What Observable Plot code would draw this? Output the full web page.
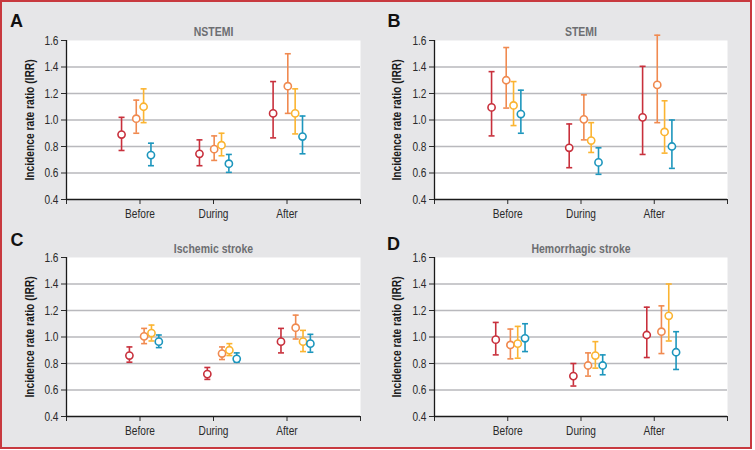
<!DOCTYPE html>
<html>
<head>
<meta charset="utf-8">
<script src="https://cdn.jsdelivr.net/npm/d3@7"></script>
<script src="https://cdn.jsdelivr.net/npm/@observablehq/plot@0.6"></script>
<style>
  html, body { margin: 0; padding: 0; background: #ffffff; }
  #wrap { position: relative; width: 755px; height: 450px; overflow: hidden; }
  #frame { position: absolute; left: 0; top: 0; width: 752px; height: 449px; box-sizing: border-box;
           border: 2px solid #c8393f; background: #e6e6e8; }
  .panel { position: absolute; }
  .panel svg { overflow: visible; }
</style>
</head>
<body>
<div id="wrap"><div id="frame"></div></div>
<script>
// ---- data ----
const phases = ["Before", "During", "After"];
const seriesNames = ["Series 1", "Series 2", "Series 3", "Series 4"];
const seriesColors = ["#c8303c", "#f08a50", "#fbb431", "#1d96bd"];
const yTicks = [0.4, 0.6, 0.8, 1.0, 1.2, 1.4, 1.6];
const yLabel = "Incidence rate ratio (IRR)";

const panelLetters = ["A", "B", "C", "D"];
const panelTitles = ["NSTEMI", "STEMI", "Ischemic stroke", "Hemorrhagic stroke"];

// values ordered: Before(s1..s4), During(s1..s4), After(s1..s4)
const nstemiEst = [0.89, 1.01, 1.10, 0.735, 0.745, 0.78, 0.81, 0.67, 1.05, 1.255, 1.05, 0.875];
const nstemiLo  = [0.77, 0.90, 0.98, 0.655, 0.655, 0.695, 0.73, 0.605, 0.865, 1.05, 0.895, 0.745];
const nstemiHi  = [1.02, 1.15, 1.235, 0.825, 0.85, 0.88, 0.90, 0.74, 1.29, 1.50, 1.235, 1.03];

const stemiEst = [1.095, 1.30, 1.11, 1.045, 0.79, 1.005, 0.845, 0.68, 1.02, 1.265, 0.91, 0.80];
const stemiLo  = [0.88, 1.09, 0.958, 0.90, 0.64, 0.85, 0.755, 0.59, 0.74, 0.98, 0.75, 0.635];
const stemiHi  = [1.365, 1.547, 1.29, 1.225, 0.97, 1.19, 0.98, 0.79, 1.405, 1.64, 1.145, 1.00];

const ischEst = [0.86, 1.005, 1.03, 0.965, 0.72, 0.875, 0.90, 0.835, 0.965, 1.07, 0.965, 0.95];
const ischLo  = [0.81, 0.95, 0.97, 0.92, 0.68, 0.83, 0.86, 0.81, 0.88, 0.985, 0.89, 0.885];
const ischHi  = [0.925, 1.065, 1.09, 1.015, 0.77, 0.925, 0.95, 0.88, 1.065, 1.165, 1.05, 1.02];

const hemEst = [0.98, 0.94, 0.95, 0.99, 0.705, 0.785, 0.86, 0.785, 1.015, 1.04, 1.16, 0.885];
const hemLo  = [0.865, 0.835, 0.84, 0.89, 0.63, 0.705, 0.765, 0.715, 0.845, 0.875, 0.97, 0.755];
const hemHi  = [1.11, 1.06, 1.08, 1.10, 0.80, 0.88, 0.965, 0.865, 1.225, 1.235, 1.40, 1.04];

const panelData = [
  [nstemiEst, nstemiLo, nstemiHi],
  [stemiEst, stemiLo, stemiHi],
  [ischEst, ischLo, ischHi],
  [hemEst, hemLo, hemHi]
];

// ---- layout / style ----
// horizontal placement of the four series inside each phase group (x units)
const dodge = [0, 0.2, 0.3, 0.4];
const groupStart = -0.154;
const panelShift = [-0.056, -0.026, 0.051, 0.031];
const phaseShift = [-0.041, 0.019, 0.021];

const FONT = "'Liberation Sans', Arial, Helvetica, sans-serif";
const layouts = [
  {left: 0,   top: 0,   w: 377, h: 225, mt: 40, mb: 26, ml: 66, mr: 17, letterDx: -50,   letterDy: -19, labelDx: -37},
  {left: 377, top: 0,   w: 378, h: 225, mt: 40, mb: 26, ml: 57, mr: 28, letterDx: -40.5, letterDy: -19, labelDx: -38},
  {left: 0,   top: 225, w: 377, h: 225, mt: 32, mb: 34, ml: 66, mr: 17, letterDx: -49.5, letterDy: -17, labelDx: -37},
  {left: 377, top: 225, w: 378, h: 225, mt: 32, mb: 34, ml: 57, mr: 28, letterDx: -41,   letterDy: -13, labelDx: -38}
];

const capSymbol = {
  draw(context, size) {
    const w = Math.sqrt(size / Math.PI);
    context.moveTo(-w, 0);
    context.lineTo(w, 0);
  }
};

// horizontally condense a text element about its own anchor (mimics a condensed face)
function condense(el, f) {
  const x = parseFloat(el.getAttribute("x")) || 0;
  const t = el.getAttribute("transform") || "";
  el.setAttribute("transform", `${t} translate(${x},0) scale(${f},1) translate(${-x},0)`.trim());
}

const wrap = document.getElementById("wrap");

panelData.forEach(([est, lo, hi], p) => {
  const L = layouts[p];
  const rows = est.map((v, i) => ({
    phase: Math.floor(i / 4),
    s: i % 4,
    series: seriesNames[i % 4],
    est: v, lo: lo[i], hi: hi[i]
  }));
  const xpos = d => d.phase + 1 + groupStart + panelShift[p] + phaseShift[d.phase] + dodge[d.s];
  const col = d => seriesColors[d.s];

  const chart = Plot.plot({
    width: L.w, height: L.h,
    marginTop: L.mt, marginBottom: L.mb, marginLeft: L.ml, marginRight: L.mr,
    style: {fontFamily: FONT, fontSize: "12.5px", background: "transparent", overflow: "visible", color: "#2a2a2a"},
    x: {domain: [0, 4]},
    y: {domain: [0.4, 1.6]},
    marks: [
      Plot.frame({fill: "#ffffff", stroke: null}),
      Plot.ruleY(yTicks.filter(t => t > 0.4 && t < 1.6), {stroke: "#b9b9bd", strokeWidth: 1.5}),
      Plot.axisY({ticks: yTicks, tickFormat: d3.format(".1f"), tickSize: 5, tickPadding: 3, label: null, fontSize: 13, className: "cond"}),
      Plot.axisX({ticks: [0, 1, 2, 3, 4], tickFormat: d => phases[d - 1] ?? "", tickSize: 5, tickPadding: 4, label: null, fontSize: 13, className: "cond"}),
      Plot.ruleX([0], {stroke: "#1a1a1a", strokeWidth: 1.3}),
      Plot.ruleY([0.4], {stroke: "#1a1a1a", strokeWidth: 1.3}),
      Plot.ruleX(rows, {x: xpos, y1: "lo", y2: "hi", stroke: col, strokeWidth: 1.6}),
      Plot.dot(rows, {x: xpos, y: "lo", symbol: capSymbol, r: 3, stroke: col, strokeWidth: 1.6}),
      Plot.dot(rows, {x: xpos, y: "hi", symbol: capSymbol, r: 3, stroke: col, strokeWidth: 1.6}),
      Plot.dot(rows, {x: xpos, y: "est", r: 3.6, fill: "#ffffff", stroke: col, strokeWidth: 1.6}),
      Plot.text([panelTitles[p]], {frameAnchor: "top", dy: -13, fontWeight: "bold", fill: "#6d6e71", fontSize: 12.5, className: "title"}),
      Plot.text([panelLetters[p]], {frameAnchor: "top-left", dx: L.letterDx, dy: L.letterDy, textAnchor: "middle", lineAnchor: "middle",
        fontWeight: "bold", fontSize: 18, fill: "#111111"}),
      Plot.text([yLabel], {frameAnchor: "left", dx: L.labelDx, rotate: -90, textAnchor: "middle", lineAnchor: "middle",
        fontWeight: "bold", fontSize: 12.5, fill: "#1a1a1a", className: "ylab"})
    ]
  });
  const div = document.createElement("div");
  div.className = "panel";
  div.style.left = L.left + "px";
  div.style.top = L.top + "px";
  div.appendChild(chart);
  wrap.appendChild(div);

  chart.querySelectorAll("g[class*='cond'] text").forEach(el => condense(el, 0.78));
  chart.querySelectorAll("g[class*='title'] text").forEach(el => condense(el, 0.84));
  chart.querySelectorAll("g[class*='ylab'] text").forEach(el => condense(el, 0.82));
});
</script>
</body>
</html>
